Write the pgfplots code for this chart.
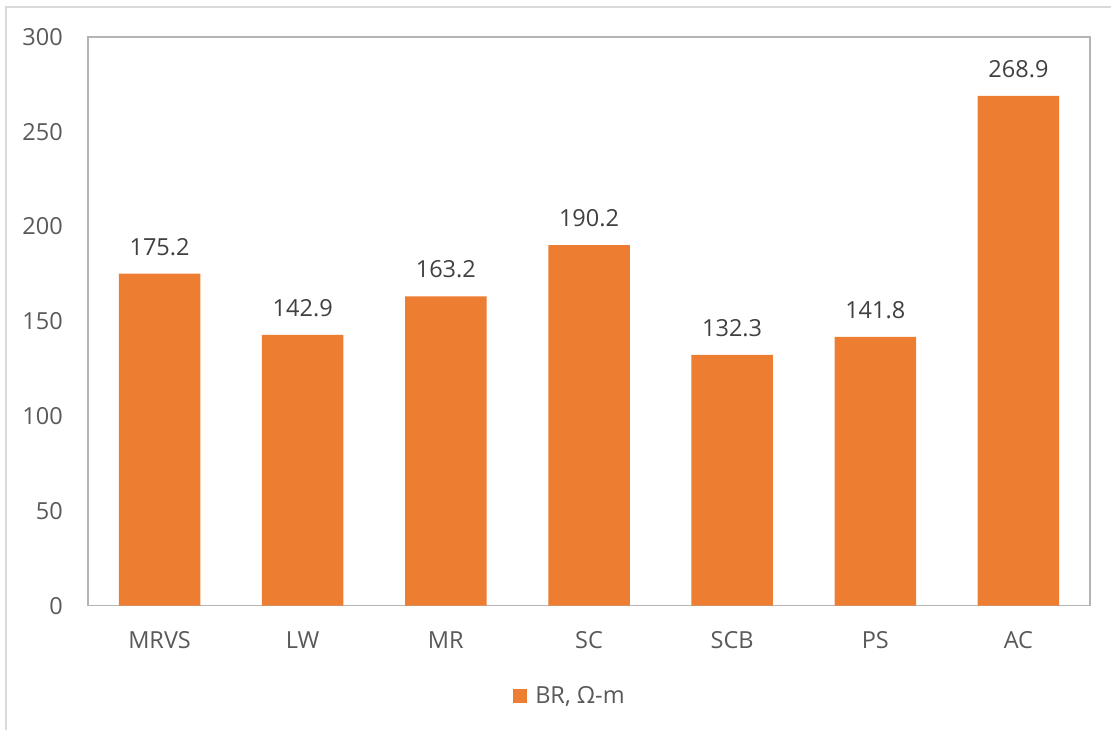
\documentclass[border=0pt]{standalone}
\usepackage{fontspec}
\setmainfont{Open Sans}
\usepackage{pgfplots}
\pgfplotsset{compat=1.18}
\definecolor{barorange}{HTML}{ED7D31}
\definecolor{txtgray}{HTML}{595959}
\definecolor{lblgray}{HTML}{404040}
\definecolor{axisgray}{HTML}{B4B4B4}
\definecolor{framegray}{HTML}{D9D9D9}
\newcommand{\chartfont}{\fontsize{23.5}{27}\selectfont}
\begin{document}
\begin{tikzpicture}[x=1pt,y=1pt]
\useasboundingbox (0,0) rectangle (1111,730);
% chart area frame
\draw[framegray, line width=1.5pt] (6,0) -- (6,723) -- (1111,723);
\begin{axis}[
  at={(88pt,124.3pt)}, anchor=south west,
  scale only axis, width=1002pt, height=568.7pt,
  ymin=0, ymax=300, xmin=-0.5, xmax=6.5,
  ytick={0,50,...,300},
  xtick=data,
  xticklabels={MRVS,LW,MR,SC,SCB,PS,AC},
  major tick length=0pt,
  axis line style={axisgray, line width=1.5pt},
  /pgf/number format/assume math mode=true,
  tick label style={font=\chartfont, text=txtgray, inner sep=0pt},
  yticklabel style={xshift=-25pt},
  xticklabel style={yshift=-26pt},
  ybar, bar width=81.5pt,
  nodes near coords,
  every node near coord/.append style={font=\chartfont, text=lblgray, inner sep=0pt, yshift=18pt},
  nodes near coords={\pgfmathprintnumber[fixed,fixed zerofill,precision=1]{\pgfplotspointmeta}},
  legend style={at={(0.481,-0.158)}, anchor=center, draw=none, font=\chartfont, text=txtgray},
  legend image code/.code={\fill[barorange] (0pt,-7pt) rectangle (14pt,7pt); \path (20pt,0pt);},
]
\addplot[fill=barorange, draw=none] coordinates {
  (0,175.2) (1,142.9) (2,163.2) (3,190.2) (4,132.3) (5,141.8) (6,268.9)
};
\addlegendentry{BR, Ω-m}
\end{axis}
\end{tikzpicture}
\end{document}
